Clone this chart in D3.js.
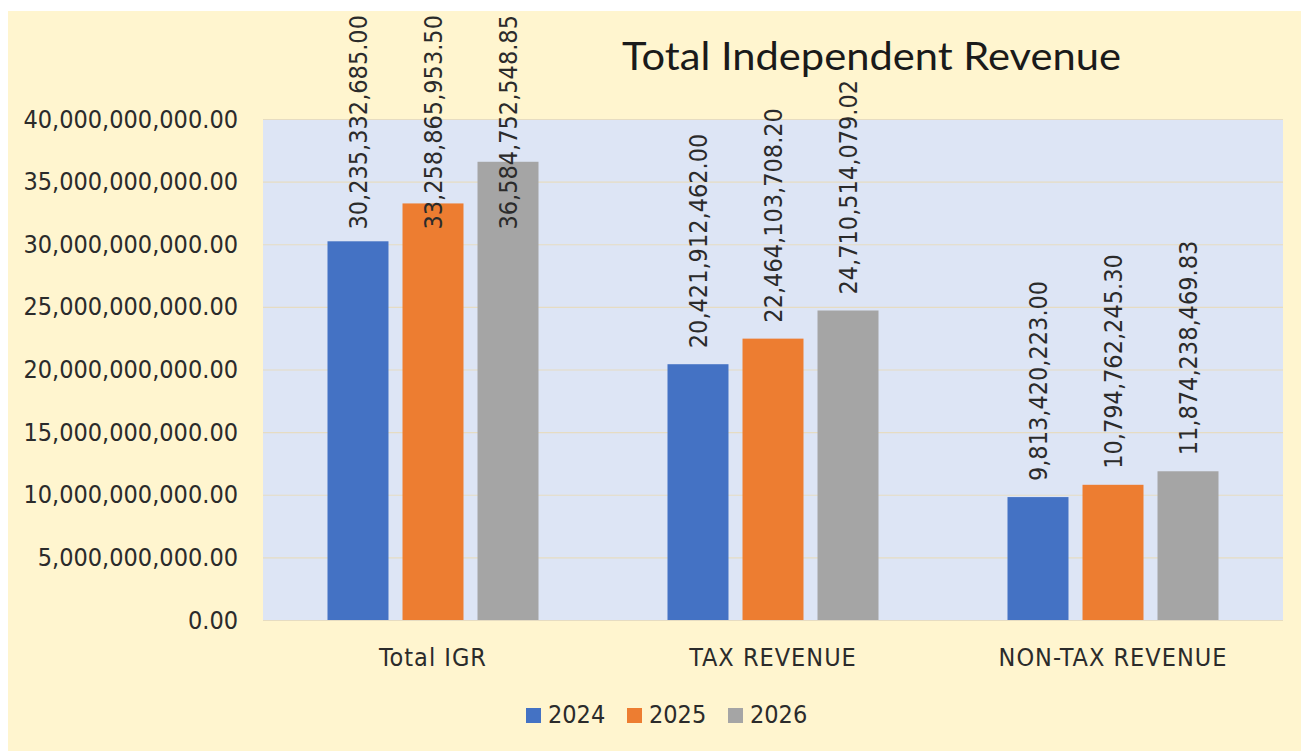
<!DOCTYPE html>
<html>
<head>
<meta charset="utf-8">
<script src="https://cdn.jsdelivr.net/npm/d3@7.9.0/dist/d3.min.js"></script>
<style>
  body { margin: 0; background: #fff; }
  svg { display: block; }
  .num { font-family: "DejaVu Sans Condensed", "DejaVu Sans", sans-serif; fill: #2b2b2b; }
</style>
</head>
<body>
<svg id="chart" width="1301" height="751"></svg>
<script>
const categories = ['Total IGR', 'TAX REVENUE', 'NON-TAX REVENUE'];
const years = ['2024', '2025', '2026'];
const values2024 = [30235332685.00, 20421912462.00, 9813420223.00];
const values2025 = [33258865953.50, 22464103708.20, 10794762245.30];
const values2026 = [36584752548.85, 24710514079.02, 11874238469.83];
const yTicks = [0, 5e9, 10e9, 15e9, 20e9, 25e9, 30e9, 35e9, 40e9];
const colors = ['#4472C4', '#ED7D31', '#A5A5A5'];

const series = [values2024, values2025, values2026];

const svg = d3.select('#chart');
const plot = { left: 263, right: 1283, top: 119, bottom: 620 };

// chart background
svg.append('rect')
  .attr('x', 8).attr('y', 11)
  .attr('width', 1293).attr('height', 740)
  .attr('fill', '#FFF5CF');

svg.append('rect')
  .attr('x', plot.left).attr('y', plot.top)
  .attr('width', plot.right - plot.left).attr('height', plot.bottom - plot.top)
  .attr('fill', '#DDE5F5');

const y = d3.scaleLinear().domain([0, 40e9]).range([plot.bottom, plot.top]);
const x0 = d3.scaleBand().domain(categories).range([plot.left, plot.right]);
const x1 = d3.scaleBand().domain(years)
  .range([64.5, x0.bandwidth() - 64.5])
  .paddingInner(0.187).paddingOuter(0);

// gridlines
svg.append('g')
  .selectAll('line')
  .data(yTicks)
  .join('line')
  .attr('x1', plot.left).attr('x2', plot.right)
  .attr('y1', d => y(d) + 0.5).attr('y2', d => y(d) + 0.5)
  .attr('stroke', '#E6DCC2')
  .attr('stroke-width', 1.2);

// y axis
const yAxis = svg.append('g')
  .attr('transform', `translate(${plot.left},0)`)
  .call(d3.axisLeft(y).tickValues(yTicks).tickFormat(d3.format(',.2f')).tickSize(0).tickPadding(25));
yAxis.select('.domain').remove();
yAxis.selectAll('text')
  .attr('class', 'num')
  .attr('font-size', 25);

// x axis
const xAxis = svg.append('g')
  .attr('transform', `translate(0,${plot.bottom})`)
  .call(d3.axisBottom(x0).tickSize(0).tickPadding(28));
xAxis.select('.domain').remove();
xAxis.selectAll('text')
  .attr('class', 'num')
  .attr('font-size', 25)
  .attr('letter-spacing', 1);

// bars
const groups = svg.append('g')
  .selectAll('g')
  .data(categories)
  .join('g')
  .attr('transform', d => `translate(${x0(d)},0)`);

groups.selectAll('rect')
  .data((d, i) => years.map((yr, k) => ({ year: yr, value: series[k][i], k })))
  .join('rect')
  .attr('x', d => x1(d.year))
  .attr('y', d => y(d.value))
  .attr('width', x1.bandwidth())
  .attr('height', d => plot.bottom - y(d.value))
  .attr('fill', d => colors[d.k]);

// value labels, rotated; pushed down when they would run off the top
const fmt = d3.format(',.2f');
groups.selectAll('text')
  .data((d, i) => years.map((yr, k) => ({ year: yr, value: series[k][i], k })))
  .join('text')
  .attr('class', 'num')
  .attr('font-size', 25)
  .attr('dy', '0.36em')
  .text(d => fmt(d.value))
  .each(function (d) {
    const len = this.getComputedTextLength();
    const start = Math.max(y(d.value) - 16, 15 + len);
    const cx = x1(d.year) + x1.bandwidth() / 2;
    d3.select(this).attr('transform', `translate(${cx},${start}) rotate(-90)`);
  });

// title
svg.append('text')
  .attr('x', 622).attr('y', 70)
  .attr('font-family', 'Lato, "Open Sans", sans-serif')
  .attr('font-size', 39)
  .attr('fill', '#1a1a1a')
  .attr('textLength', 499)
  .attr('lengthAdjust', 'spacingAndGlyphs')
  .text('Total Independent Revenue');

// legend
const legend = svg.append('g')
  .selectAll('g')
  .data(years)
  .join('g')
  .attr('transform', (d, i) => `translate(${526 + i * 101},708)`);

legend.append('rect')
  .attr('width', 15).attr('height', 15)
  .attr('fill', (d, i) => colors[i]);

legend.append('text')
  .attr('class', 'num')
  .attr('x', 22).attr('y', 15)
  .attr('font-size', 25)
  .text(d => d);
</script>
</body>
</html>
